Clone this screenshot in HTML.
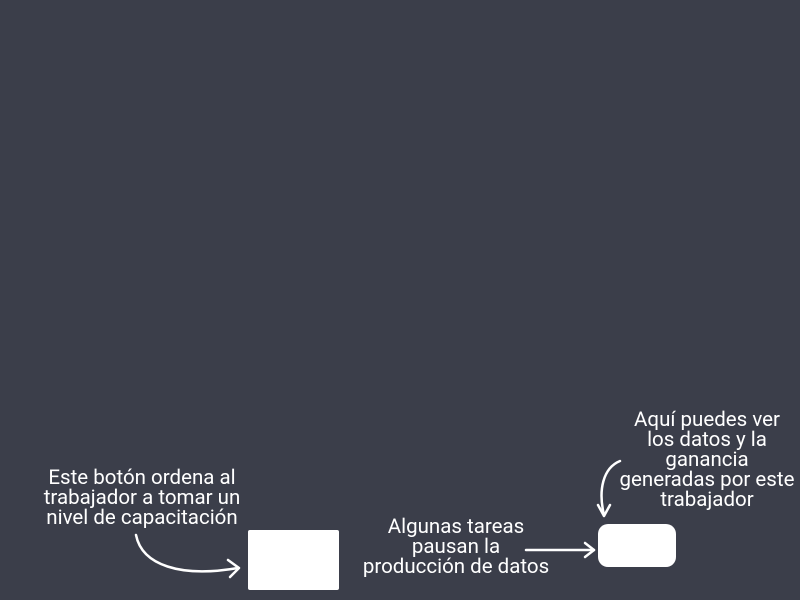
<!DOCTYPE html>
<html><head><style>
body{margin:0;width:800px;height:600px;background:#3b3e4a;overflow:hidden;position:relative;font-family:"Roboto","Liberation Sans",sans-serif;color:#fff}
.t{position:absolute;font-size:20.5px;line-height:20px;text-align:center;white-space:nowrap;transform:translateX(-50%)}
</style></head><body>
<div class="t" style="left:142px;top:468px">Este botón ordena al<br>trabajador a tomar un<br>nivel de capacitación</div>
<div class="t" style="left:456px;top:517px">Algunas tareas<br>pausan la<br>producción de datos</div>
<div class="t" style="left:707px;top:410px">Aquí puedes ver<br>los datos y la<br>ganancia<br>generadas por este<br>trabajador</div>
<div style="position:absolute;left:248px;top:530px;width:91px;height:60px;background:#fff;border-radius:2px"></div>
<div style="position:absolute;left:598px;top:524px;width:78px;height:43px;background:#fff;border-radius:10px"></div>
<svg width="800" height="600" style="position:absolute;left:0;top:0" fill="none" stroke="#fff" stroke-width="2.5" stroke-linecap="round" stroke-linejoin="round">
<path d="M136 535 C142 565 180 578 238 568"/>
<path d="M228 560 L239 568 L230 577"/>
<path d="M526 550 L594 550"/>
<path d="M585 543 L594 550 L585 557"/>
<path d="M620 461 C603 468 598 490 604 515"/>
<path d="M598 505 L604 516 L610 505"/>
</svg>
</body></html>
